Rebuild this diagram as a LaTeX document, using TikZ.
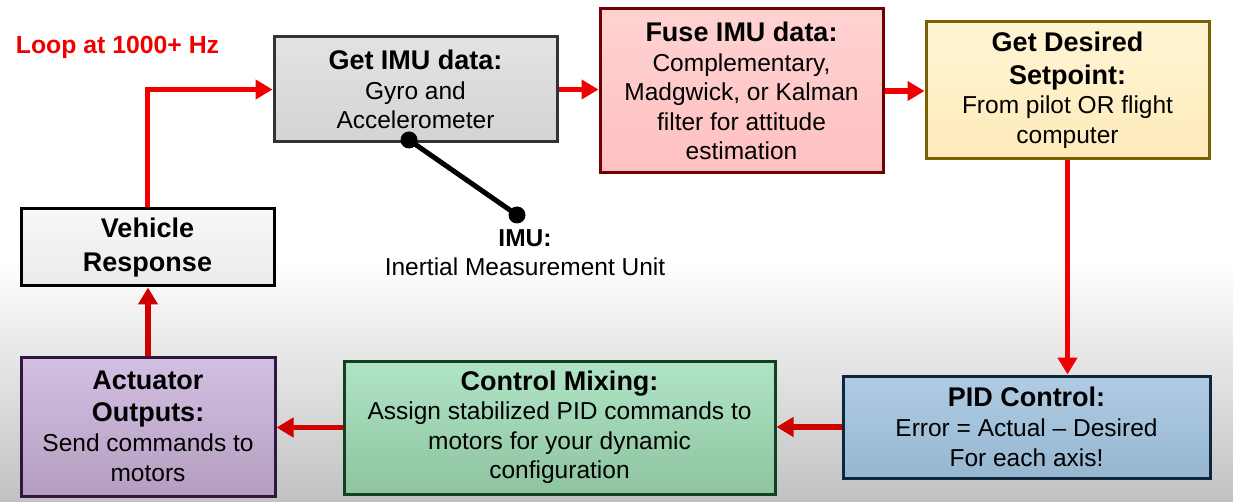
\documentclass[tikz,border=0pt]{standalone}
\usepackage{fontspec}
\setmainfont{Liberation Sans}
\usetikzlibrary{arrows.meta}
\definecolor{arrred}{HTML}{F00000}
\definecolor{arrdark}{HTML}{D00000}
\tikzset{
  box/.style={draw, line width=3pt, rectangle, align=center, inner sep=0pt,
    font=\fontsize{24.5}{29.5}\selectfont},
  arr/.style={draw=arrred, line width=5.5pt, -{Triangle[length=17pt,width=19pt]}},
  arrd/.style={arr, draw=arrdark}
}
\newcommand\boxtitle[1]{{\bfseries\fontsize{27}{32}\selectfont #1}}
\begin{document}
\begin{tikzpicture}[x=1pt,y=-1pt]
\useasboundingbox (0,0) rectangle (1233,502);
\fill[white] (0,0) rectangle (1233,262);
\shade[top color=white, bottom color=black!24] (0,260) rectangle (1233,502);

\node[box, draw=black!80, top color=black!11, bottom color=black!17,
  minimum width=283pt, minimum height=105pt] (imu) at (415.5,89.5)
  {\boxtitle{Get IMU data:}\\Gyro and\\Accelerometer};
\node[box, draw=red!45!black, top color={rgb,255:red,255;green,210;blue,210}, bottom color={rgb,255:red,255;green,192;blue,192},
  minimum width=283pt, minimum height=164pt] (fuse) at (741.5,91)
  {\boxtitle{Fuse IMU data:}\\Complementary,\\Madgwick, or Kalman\\filter for attitude\\estimation};
\node[box, draw={rgb,255:red,122;green,96;blue,0}, top color={rgb,255:red,255;green,245;blue,212}, bottom color={rgb,255:red,255;green,234;blue,186},
  minimum width=283pt, minimum height=137pt] (des) at (1067.5,90.5)
  {\boxtitle{Get Desired}\\[3pt]\boxtitle{Setpoint:}\\From pilot OR flight\\computer};
\node[box, draw=black, top color=black!3, bottom color=black!8,
  minimum width=253pt, minimum height=77pt] (veh) at (147.5,247.5)
  {\boxtitle{Vehicle}\\[5pt]\boxtitle{Response}};
\node[box, draw={rgb,255:red,50;green,22;blue,62}, top color={rgb,255:red,210;green,192;blue,226}, bottom color={rgb,255:red,180;green,158;blue,192},
  minimum width=254pt, minimum height=139pt] (act) at (148,426.5)
  {\boxtitle{Actuator}\\[2pt]\boxtitle{Outputs:}\\[1pt]Send commands to\\motors};
\node[box, draw={rgb,255:red,20;green,64;blue,34}, top color={rgb,255:red,176;green,228;blue,198}, bottom color={rgb,255:red,142;green,196;blue,160},
  minimum width=431pt, minimum height=133pt] (mix) at (559.5,427.5)
  {\boxtitle{Control Mixing:}\\Assign stabilized PID commands to\\motors for your dynamic\\configuration};
\node[box, draw={rgb,255:red,14;green,38;blue,62}, top color={rgb,255:red,176;green,204;blue,228}, bottom color={rgb,255:red,150;green,182;blue,208},
  minimum width=367pt, minimum height=102pt] (pid) at (1026.5,427)
  {\boxtitle{PID Control:}\\Error = Actual – Desired\\[1pt]For each axis!};

\node[font=\bfseries\fontsize{24.8}{29}\selectfont, text=arrred, inner sep=0pt] (loop) at (117.5,47) {Loop at 1000+ Hz};

\coordinate (imudot) at (409,140);
\coordinate (imuend) at (517,215);
\draw[line width=5pt, black] (imudot) -- (imuend);
\fill (imudot) circle (8.5pt);
\fill (imuend) circle (8.5pt);
\node[font=\fontsize{24.5}{29}\selectfont, align=center, inner sep=0pt, anchor=north] (imulbl) at (525,229)
  {\textbf{IMU:}\\Inertial Measurement Unit};

\draw[arr] (veh.north) |- (imu.west);
\draw[arr] (imu.east) -- (imu.east -| fuse.west);
\draw[arr] (fuse.east) -- (fuse.east -| des.west);
\draw[arr] (des.south) -- (des.south |- pid.north);
\draw[arrd] (pid.west) -- (pid.west -| mix.east);
\draw[arrd] (mix.west) -- (mix.west -| act.east);
\draw[arrd] (act.north) -- (act.north |- veh.south);
\end{tikzpicture}
\end{document}
